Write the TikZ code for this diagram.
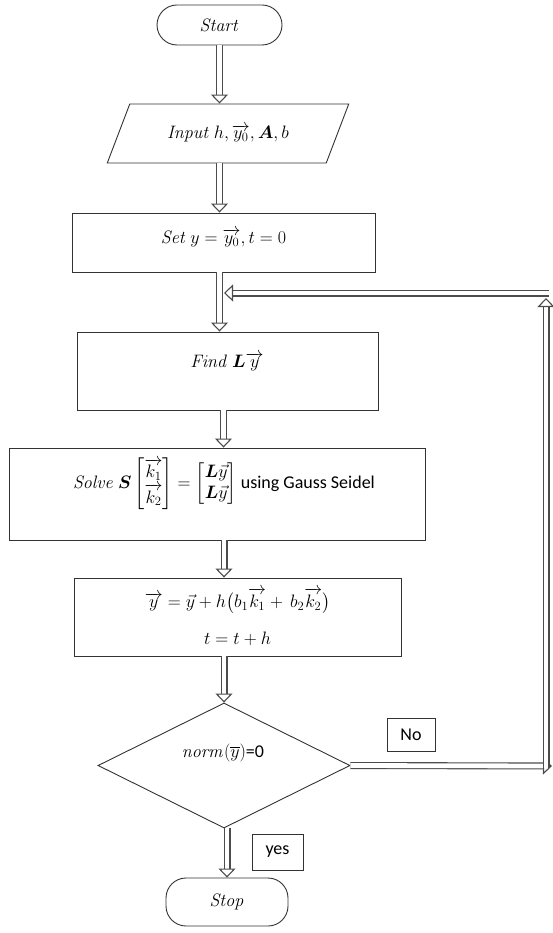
\RequirePackage{fix-cm}
\documentclass[tikz,border=0pt]{standalone}
\usepackage{amsmath}
\usepackage[no-math]{fontspec}
\setmainfont{Carlito}
\usetikzlibrary{shapes.geometric,arrows.meta,calc}
\begin{document}
\begin{tikzpicture}[x=1pt,y=-1pt,
  font=\fontsize{18}{21}\selectfont,
  box/.style={draw=black!80, line width=0.9pt, rectangle, inner sep=0pt},
  term/.style={draw=black!80, line width=0.9pt, rectangle, rounded corners=20pt, inner sep=0pt},
  para/.style={draw=black!80, line width=0.9pt, trapezium, trapezium left angle=52, trapezium right angle=128, trapezium stretches=true, inner sep=0pt},
  decision/.style={draw=black!80, line width=0.9pt, diamond, inner sep=0pt},
  txt/.style={inner sep=1pt},
  tag/.style={draw=black!80, line width=0.9pt, rectangle, inner sep=0pt},
  flow/.style={draw=black!70, line width=1.1pt, double=white, double distance=4.8pt,
    -{Triangle[open, length=9pt, width=17pt, fill=white]}}
]
\fill[white] (0,0) rectangle (553,933);
\useasboundingbox (0,0) rectangle (553,933);

% nodes
\node[term, minimum width=125pt, minimum height=40pt] (start) at (219.5,25) {$\mathit{Start}$};
\node[para, minimum width=242pt, minimum height=59pt] (input) at (228,133.5) {$\mathit{Input}\ h,\overrightarrow{y_0},\boldsymbol{A},b$};
\node[box, minimum width=303pt, minimum height=59pt] (set) at (223.5,242.5) {};
\node[txt] (settxt) at (223.5,238) {$\mathit{Set}\ y=\overrightarrow{y_0},t=0$};
\node[box, minimum width=301pt, minimum height=78pt] (find) at (227.5,371) {};
\node[txt] (findtxt) at (227,362) {$\mathit{Find}\ \boldsymbol{L}\overrightarrow{y}$};
\node[box, minimum width=416pt, minimum height=92pt] (solve) at (217,494) {};
\node[txt] (solvetxt) at (224,484) {$\mathit{Solve}\ \boldsymbol{S}\begin{bmatrix}\overrightarrow{k_1}\\ \overrightarrow{k_2}\end{bmatrix}=\begin{bmatrix}\boldsymbol{L}\vec{y}\\ \boldsymbol{L}\vec{y}\end{bmatrix}$ using Gauss Seidel};
\node[box, minimum width=327pt, minimum height=78pt] (update) at (237.5,617) {};
\node[txt] (updtxt1) at (237.5,601) {$\overrightarrow{y}=\vec{y}+h\bigl(b_1\overrightarrow{k_1}+\,b_2\overrightarrow{k_2}\bigr)$};
\node[txt] (updtxt2) at (237.5,639) {$t=t+h$};
\node[decision, minimum width=252pt, minimum height=125pt] (dec) at (224,765.5) {};
\node[txt] (dectxt) at (223,753) {$\mathit{norm}(\overline{y})$=0};
\node[term, minimum width=122pt, minimum height=48pt] (stop) at (227,902) {$\mathit{Stop}$};
\node[tag, minimum width=48pt, minimum height=33pt] (no) at (411,734.5) {No};
\node[tag, minimum width=51pt, minimum height=36pt] (yes) at (277.5,852) {yes};

% loop coordinates
\coordinate (r1) at (552,766);
\coordinate (r2) at (546,768);
\coordinate (r3) at (546,298);
\coordinate (r4) at (549,293);
\coordinate (r5) at (224,293);

% connectors
\draw[flow] (start.south) -- (start.south |- input.north);
\draw[flow] (start.south |- input.south) -- (start.south |- set.north);
\draw[flow] (start.south |- set.south) -- (start.south |- find.north);
\draw[flow] ([xshift=-4pt]find.south) -- ([xshift=-4pt]find.south |- solve.north);
\draw[flow] (dec.north |- solve.south) -- (dec.north |- update.north);
\draw[flow] (dec.north |- update.south) -- (dec.north);
\draw[flow] (stop.north |- dec.south) -- (stop.north);
\draw[flow] (dec.east) -- (r1);
\draw[flow] (r2) -- (r3);
\draw[flow] (r4) -- (r5);
\end{tikzpicture}
\end{document}
